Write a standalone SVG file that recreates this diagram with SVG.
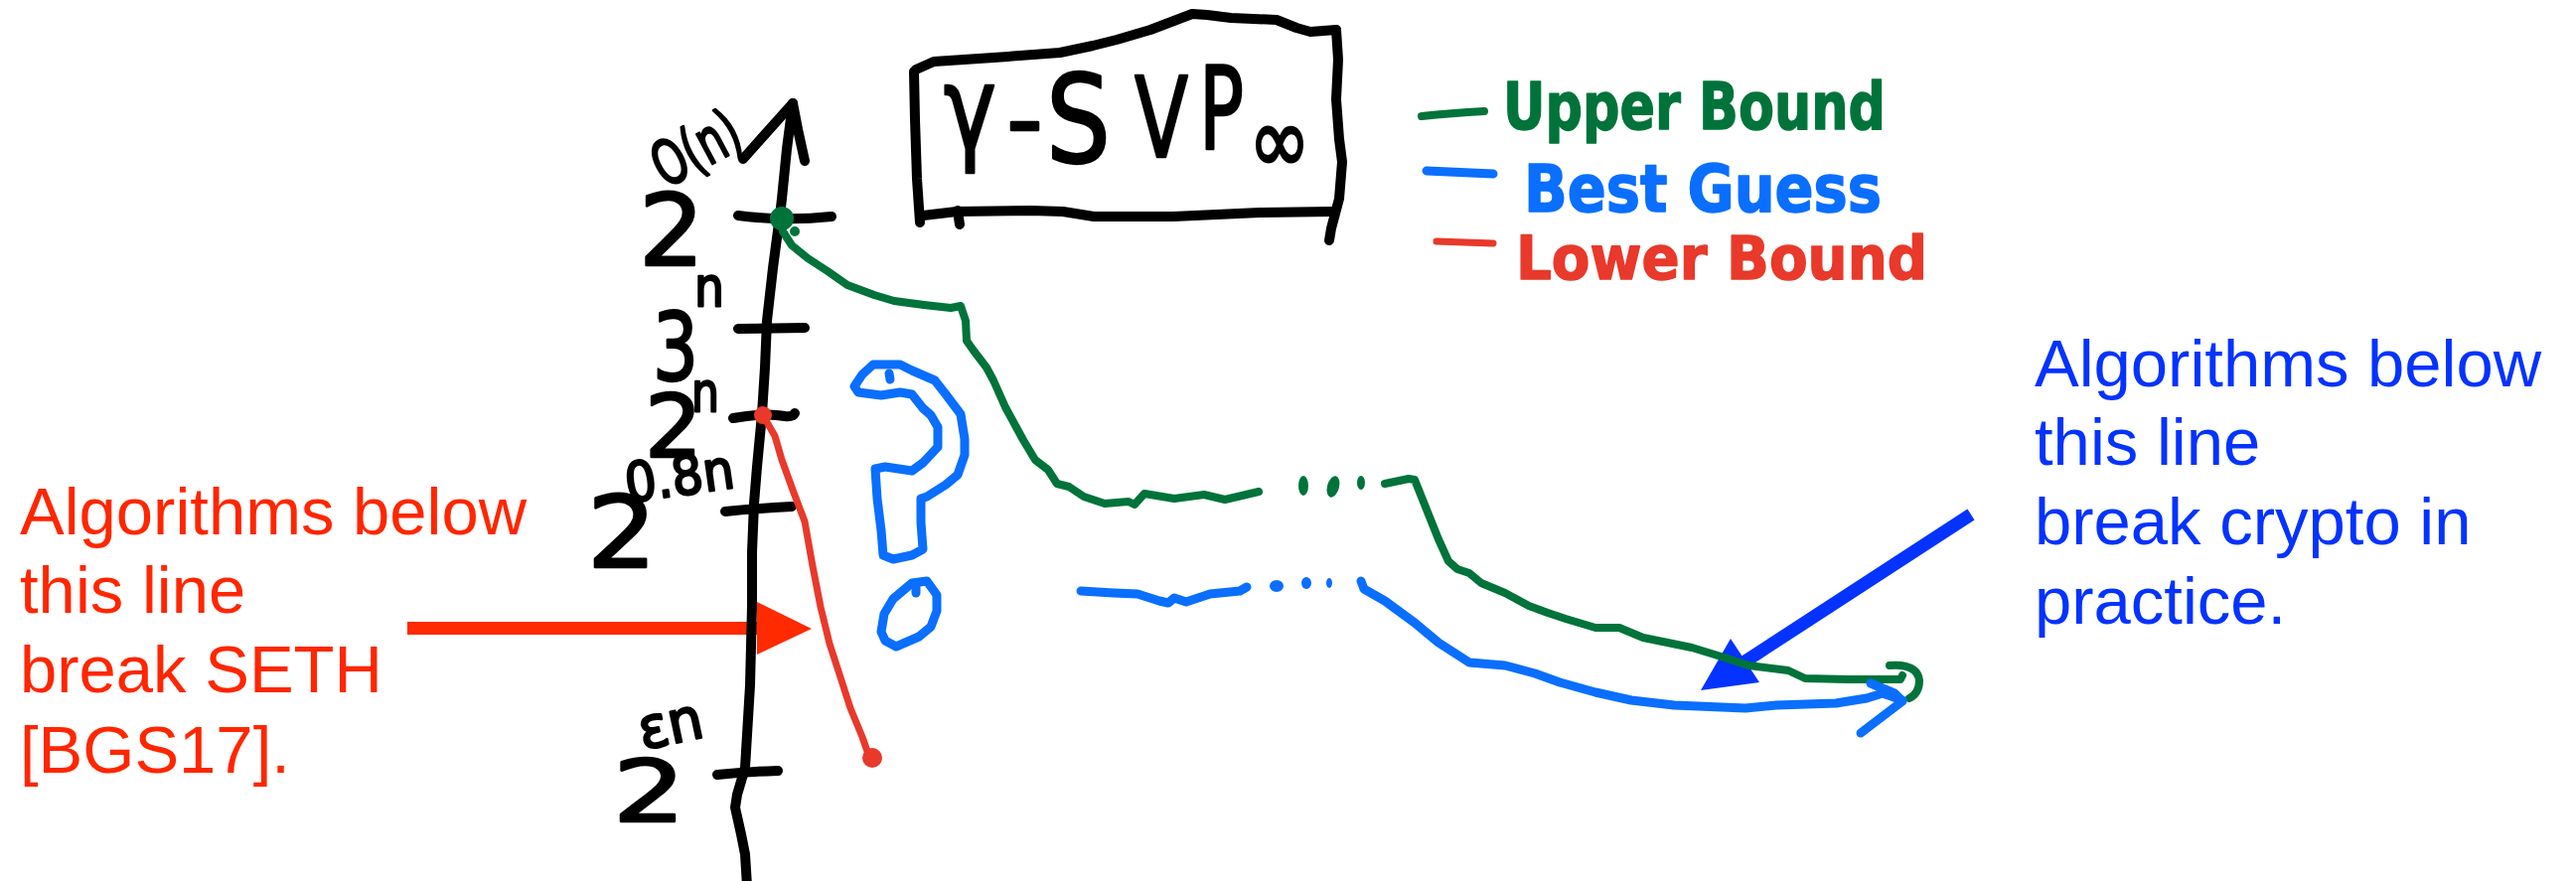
<svg xmlns="http://www.w3.org/2000/svg" width="2593" height="887" viewBox="0 0 2593 887">
<defs>
<style>
.ink{fill:none;stroke-linecap:round;stroke-linejoin:round}
.k{stroke:#000;stroke-width:10}
.g{stroke:#00733B;stroke-width:8}
.b{stroke:#0A6EFF;stroke-width:9}
.r{stroke:#E8392B;stroke-width:7}
.hw{font-family:"DejaVu Sans",sans-serif;fill:#000;stroke:#000;stroke-width:2.5;stroke-linejoin:round}
.lg{font-family:"DejaVu Sans",sans-serif;font-weight:bold;stroke-width:1.5;stroke-linejoin:round}
.note{font-family:"Liberation Sans",Arial,sans-serif;font-size:67px}
</style>
</defs>
<rect width="2593" height="887" fill="#fff"/>

<g id="connectors">
  <g id="red-arrow" fill="#FF2A00">
    <rect x="410" y="626" width="356" height="13"/>
    <polygon points="762,606 817,633 762,659"/>
  </g>
  <g id="blue-arrow">
    <line x1="1984" y1="518" x2="1752" y2="669" stroke="#0433FF" stroke-width="13"/>
    <polygon points="1712,695 1742,643 1771,687" fill="#0433FF"/>
  </g>
</g>

<g id="axis">
  <polyline class="ink k" points="798,104 792,150 787,200 785,217 778,270 772,323 770,370 767,417 762,470 759,507 757,556 757,610 755,690 750,773 742,800 740,813 746,840 750,860 752,892"/>
  <polyline class="ink k" points="748,160 798,104 803,130 810,162"/>
  <path class="ink k" d="M743,217 Q790,223 837,218"/>
  <path class="ink k" d="M743,331 L810,330"/>
  <path class="ink k" d="M738,421 Q770,415 790,419 Q798,420 800,416"/>
  <path class="ink k" d="M730,515 Q760,512 797,510"/>
  <path class="ink k" d="M722,780 Q750,777 783,776"/>
  <text class="hw" x="643" y="267" font-size="100" textLength="66" lengthAdjust="spacingAndGlyphs">2</text>
  <text class="hw" x="670" y="190" font-size="62" textLength="92" lengthAdjust="spacingAndGlyphs" transform="rotate(-28 670 190)">O(n)</text>
  <text class="hw" x="657" y="383" font-size="95" textLength="46" lengthAdjust="spacingAndGlyphs">3</text>
  <text class="hw" x="699" y="308" font-size="56" textLength="30" lengthAdjust="spacingAndGlyphs">n</text>
  <text class="hw" x="649" y="460" font-size="88" textLength="58" lengthAdjust="spacingAndGlyphs">2</text>
  <text class="hw" x="696" y="414" font-size="56" textLength="28" lengthAdjust="spacingAndGlyphs">n</text>
  <text class="hw" x="591" y="571" font-size="100" textLength="70" lengthAdjust="spacingAndGlyphs">2</text>
  <text class="hw" x="632" y="506" font-size="55" textLength="110" lengthAdjust="spacingAndGlyphs" transform="rotate(-8 632 506)">0.8n</text>
  <text class="hw" x="617" y="827" font-size="86" textLength="73" lengthAdjust="spacingAndGlyphs">2</text>
  <text class="hw" x="647" y="755" font-size="58" textLength="65" lengthAdjust="spacingAndGlyphs" transform="rotate(-12 647 755)">εn</text>
</g>

<g id="title-box">
  <polyline class="ink k" points="920,72 921,120 923,180 926,224"/>
  <polyline class="ink k" points="922,70 940,62 1000,58 1067,53 1100,46 1124,40 1158,30 1200,14 1215,15 1239,18 1285,20 1305,28 1319,32 1345,30"/>
  <polyline class="ink k" points="1345,30 1347,60 1345,100 1348,140 1351,163 1348,200 1340,230 1338,242"/>
  <polyline class="ink k" points="929,217 963,213 1038,212 1070,213 1101,218 1181,218 1268,214 1340,213"/>
  <path class="ink k" d="M964,212 L966,226"/>
  <text class="hw" x="950" y="150" font-size="115" textLength="53" lengthAdjust="spacingAndGlyphs">γ</text>
  <text class="hw" x="1013" y="154" font-size="100" textLength="37" lengthAdjust="spacingAndGlyphs">-</text>
  <text class="hw" x="1053" y="163" font-size="123" textLength="65" lengthAdjust="spacingAndGlyphs">S</text>
  <text class="hw" x="1142" y="158" font-size="112" textLength="54" lengthAdjust="spacingAndGlyphs">V</text>
  <text class="hw" x="1207" y="150" font-size="116" textLength="45" lengthAdjust="spacingAndGlyphs">P</text>
  <text class="hw" x="1257" y="174" font-size="95" textLength="62" lengthAdjust="spacingAndGlyphs">∞</text>
</g>

<g id="legend">
  <path class="ink g" stroke-width="9" d="M1431,117 Q1460,114 1494,112"/>
  <text class="lg" x="1513" y="130" font-size="66" fill="#00733B" stroke="#00733B" textLength="385" lengthAdjust="spacingAndGlyphs">Upper Bound</text>
  <path class="ink b" d="M1436,172 L1503,175"/>
  <text class="lg" x="1534" y="213" font-size="66" fill="#0A6EFF" stroke="#0A6EFF" textLength="360" lengthAdjust="spacingAndGlyphs">Best Guess</text>
  <path class="ink r" stroke-width="8" d="M1446,243 L1503,245"/>
  <text class="lg" x="1526" y="281" font-size="60" fill="#E8392B" stroke="#E8392B" textLength="414" lengthAdjust="spacingAndGlyphs">Lower Bound</text>
</g>

<g id="upper-bound-curve">
  <circle cx="787" cy="220" r="12" fill="#00733B"/>
  <circle cx="800" cy="233" r="5" fill="#00733B"/>
  <polyline class="ink g" points="787,225 788,233 797,247 813,260 833,273 853,287 880,297 900,303 930,307 957,310 967,308 972,323 973,343 980,353 993,370 1000,383 1012,410 1030,443 1042,463 1055,473 1064,487 1076,490 1091,500 1112,507 1136,505 1142,508 1152,497 1182,502 1212,498 1233,503 1267,495"/>
  <ellipse cx="1312" cy="489" rx="5" ry="10" fill="#00733B"/>
  <ellipse cx="1342" cy="490" rx="6" ry="11" fill="#00733B" transform="rotate(15 1342 490)"/>
  <ellipse cx="1370" cy="486" rx="4" ry="7" fill="#00733B"/>
  <polyline class="ink g" points="1394,487 1418,482 1424,483 1436,513 1448,543 1458,565 1467,573 1479,577 1491,587 1515,597 1539,610 1558,617 1576,623 1606,632 1630,632 1654,642 1703,652 1739,663 1760,670 1800,675 1817,683 1860,684 1913,684 1915,680"/>
  <path class="ink g" d="M1902,670 Q1930,668 1932,685 Q1932,698 1922,703"/>
</g>

<g id="best-guess-curve">
  <polyline class="ink b" points="1088,595 1121,597 1145,598 1167,605 1176,607 1182,602 1194,606 1218,598 1248,595 1255,591"/>
  <ellipse cx="1285" cy="590" rx="7" ry="6" fill="#0A6EFF"/>
  <ellipse cx="1315" cy="587" rx="5" ry="6" fill="#0A6EFF"/>
  <ellipse cx="1338" cy="587" rx="3" ry="5" fill="#0A6EFF"/>
  <polyline class="ink b" points="1370,585 1373,593 1394,605 1424,627 1448,647 1479,667 1515,670 1545,678 1570,687 1606,697 1642,705 1685,710 1757,713 1788,710 1848,708 1879,703 1895,698 1915,705"/>
  <polyline class="ink b" points="1883,688 1907,698 1915,706 1873,738"/>
</g>

<g id="question-mark">
  <polygon class="ink b" stroke-width="8" points="864,395 860,389 868,377 879,367 906,367 918,373 941,383 952,397 967,417 971,442 971,458 964,478 952,488 933,500 927,502 927,526 929,553 918,559 899,563 889,559 887,534 883,502 881,472 891,470 918,474 929,466 944,450 944,430 937,418 929,411 918,397 906,395 887,398"/>
  <path class="ink b" stroke-width="8" d="M895,376 L896,382"/>
  <polygon class="ink b" stroke-width="8" points="887,636 890,618 899,603 918,587 933,585 943,599 943,615 937,631 925,641 902,651 891,645"/>
  <path class="ink b" stroke-width="8" d="M922,590 L922,597"/>
</g>

<g id="lower-bound-curve">
  <polyline class="ink r" points="768,418 780,439 787,463 799,496 810,525 818,570 826,611 835,648 847,685 856,713 868,742 876,765"/>
  <circle cx="768" cy="418" r="9" fill="#E8392B"/>
  <circle cx="878" cy="763" r="10" fill="#E8392B"/>
</g>

<g id="seth-note">
  <text class="note" fill="#FF2600"><tspan x="20" y="538">Algorithms below</tspan><tspan x="20" y="617">this line</tspan><tspan x="20" y="697">break SETH</tspan><tspan x="20" y="778">[BGS17].</tspan></text>
</g>

<g id="crypto-note">
  <text class="note" fill="#0433FF"><tspan x="2048" y="389">Algorithms below</tspan><tspan x="2048" y="468">this line</tspan><tspan x="2048" y="548">break crypto in</tspan><tspan x="2048" y="628">practice.</tspan></text>
</g>
</svg>
